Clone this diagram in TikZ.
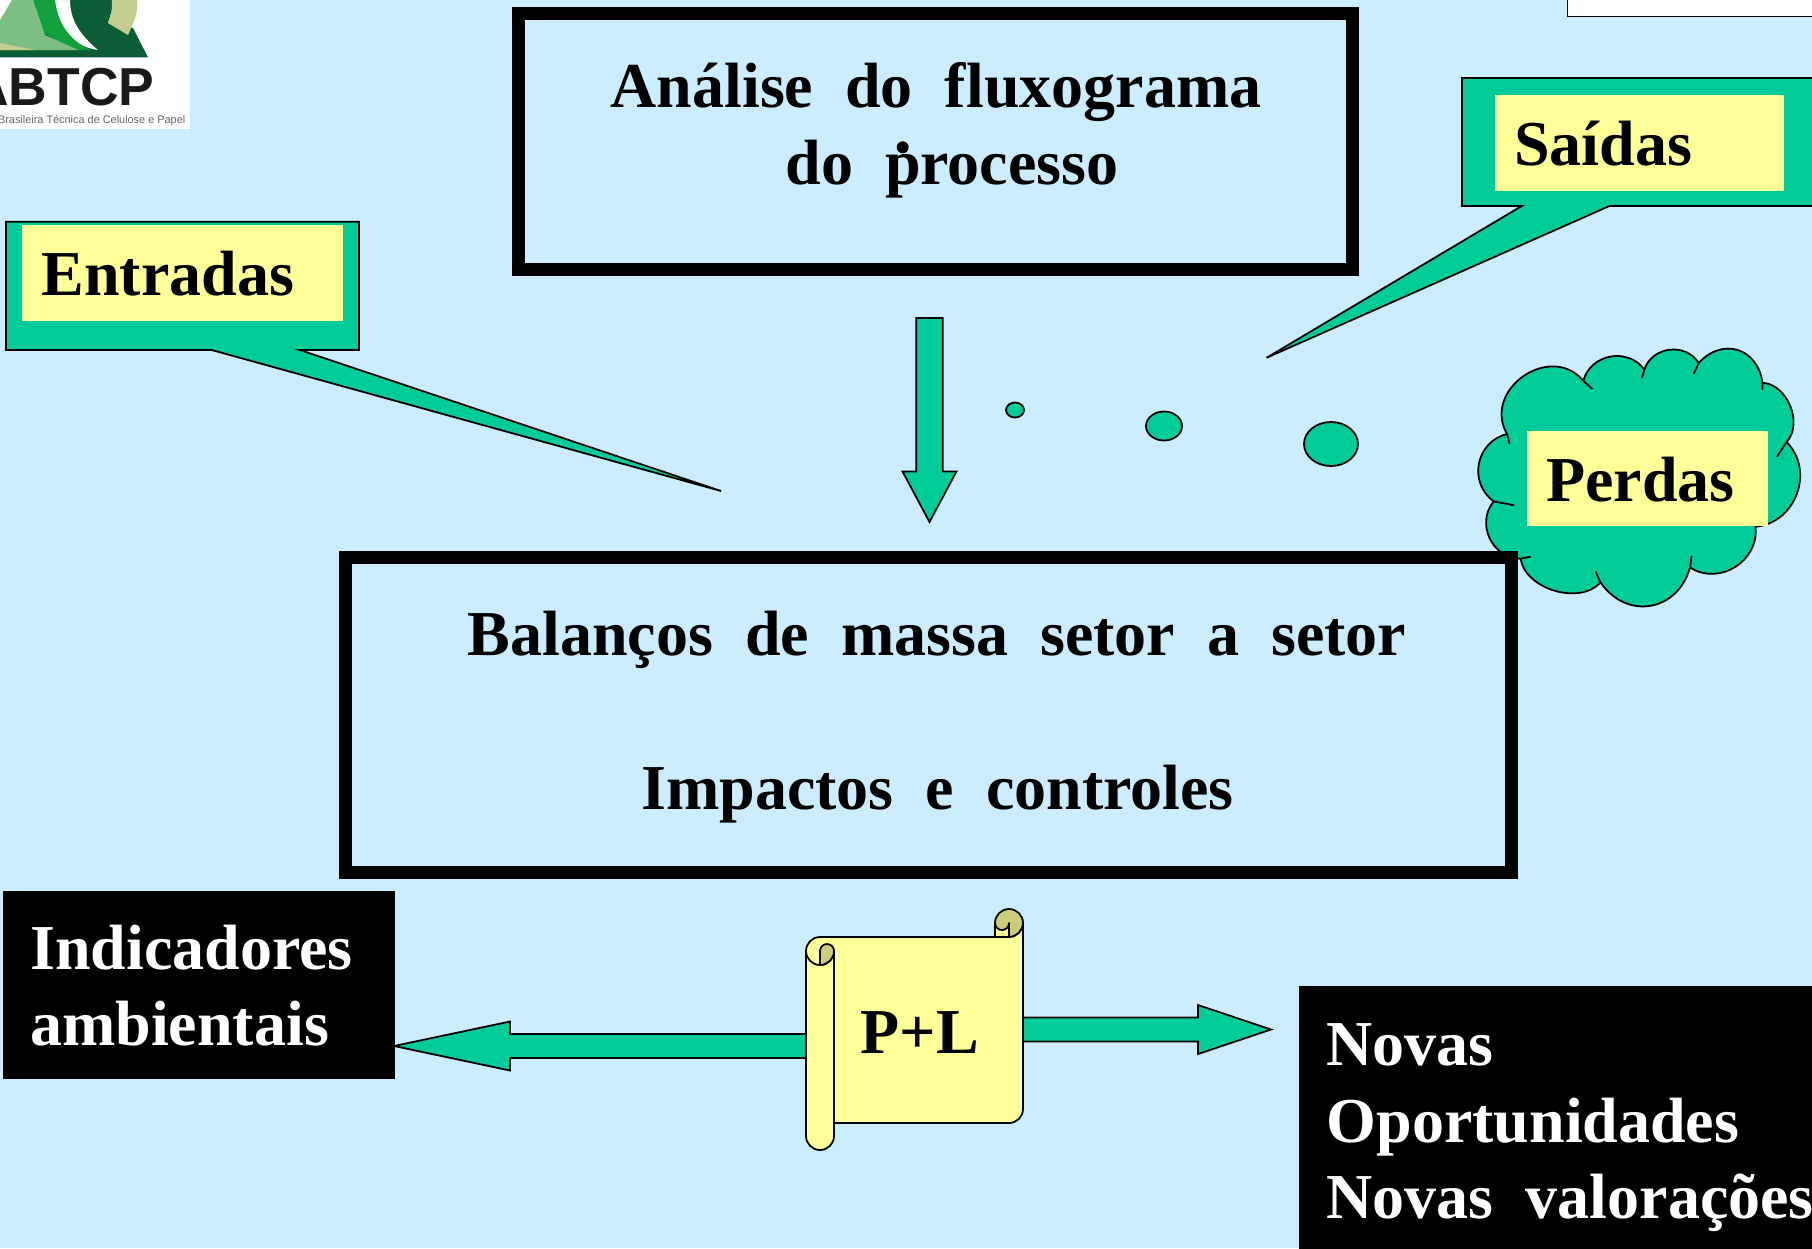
\documentclass[tikz,border=0pt]{standalone}
\usepackage{fontspec}
\setmainfont{Liberation Serif}
\newfontfamily\logofont{Liberation Sans}
\usetikzlibrary{calc, positioning, shapes.geometric}
\definecolor{fundo}{HTML}{CCECFF}
\definecolor{verde}{HTML}{00CC99}
\definecolor{amarelo}{HTML}{FFFF99}
\definecolor{caqui}{HTML}{CCCC7A}
\definecolor{logoescuro}{HTML}{0B5D36}
\definecolor{logomedio}{HTML}{12A03C}
\definecolor{logoclaro}{HTML}{7DBE85}
\definecolor{logobege}{HTML}{C5CC90}
\newcommand{\blocoseta}[5]{%
  \coordinate (base) at ($(#2)!#5!(#1)$);
  \draw[greenshape] ($(#1)!#3!90:(#2)$) -- ($(base)!#3!90:(#2)$) -- ($(base)!#4!90:(#2)$)
    -- (#2) -- ($(base)!#4!-90:(#2)$) -- ($(base)!#3!-90:(#2)$) -- ($(#1)!#3!-90:(#2)$) -- cycle;
}
\begin{document}
\begin{tikzpicture}[x=0.01cm,y=0.01cm,
  greenshape/.style={draw=black,fill=verde,line width=0.5pt,line join=miter},
  scrollpart/.style={draw=black,line width=0.5pt,line join=round},
  bump/.style={bend left=65,looseness=1.15},
  framebox/.style={draw=black,fill=fundo,line width=0.13cm,inner sep=0pt,anchor=north west},
  blackbox/.style={fill=black,inner sep=0pt,anchor=north west},
  labelbox/.style={fill=amarelo,inner sep=0pt,inner xsep=0.195cm,anchor=north west,
    font=\fontsize{18.2}{21.8}\selectfont\bfseries,align=left,text height=13pt,text depth=0pt},
  blob/.style={ellipse,draw=black,fill=verde,line width=0.5pt,inner sep=0pt},
  titletext/.style={font=\fontsize{18.2}{21.8}\selectfont\bfseries,inner sep=0pt,anchor=base},
  whitetext/.style={font=\fontsize{18.2}{21.8}\selectfont\bfseries,text=white,inner sep=0pt,
    align=left,anchor=north west}]
  \clip (0,0) rectangle (1812,-1248);
  \fill[fundo] (0,0) rectangle (1812,-1248);
  % logo
  \fill[white] (0,0) rectangle (190,-129);
  \fill[logoescuro] (70,0) -- (115,0) -- (108,-23) -- (133,-28) -- (148,-57.3) -- (0,-57.3) -- (0,-50) -- cycle;
  \fill[white] (55,0) .. controls (58,-30) and (75,-47) .. (98,-50) .. controls (80,-35) and (70,-20) .. (70,0) -- cycle;
  \fill[logomedio] (33,0) -- (55,0) .. controls (58,-25) and (70,-40) .. (90,-50) -- (70,-50) -- (40,-30) -- cycle;
  \fill[logoclaro] (12,0) -- (33,0) -- (45,-35) -- (78,-50) -- (0,-50) -- (0,-20) -- cycle;
  \fill[logobege] (0,-43) -- (35,-50) -- (0,-50) -- cycle;
  \fill[logobege] (112,0) -- (137,0) .. controls (137,-15) .. (128,-35) -- (108,-23) .. controls (112,-12) .. cycle;
  \node[font=\logofont\bfseries\fontsize{15.2}{15}\selectfont,text=black!90,inner sep=0pt,anchor=base east] (abtcp) at (155,-105) {ABTCP};
  \node[font=\logofont\fontsize{3.1}{4}\selectfont,text=black!60,inner sep=0pt,anchor=base east] (abtcpnome) at (186,-123) {Brasileira Técnica de Celulose e Papel};
  % white corner box
  \draw[black,line width=0.5pt,fill=white] (1567.5,5) rectangle (1830,-16.5);
  % callouts
  \draw[greenshape] (6,-221.7) -- (359,-221.7) -- (359,-350) -- (300,-350) -- (721,-491) -- (211.7,-350) -- (6,-350) -- cycle;
  \node[labelbox,minimum width=3.21cm,minimum height=0.96cm,text width=2.82cm] (entradas) at (21.5,-224) {Entradas};
  \draw[greenshape] (1830,-78) -- (1462,-78) -- (1462,-206) -- (1521.7,-206) -- (1266.5,-357.8) -- (1609.5,-206) -- (1830,-206);
  \node[labelbox,minimum width=2.89cm,minimum height=0.96cm,text width=2.5cm] (saidas) at (1494,-94) {Saídas};
  % cloud
  \draw[greenshape,line join=round] (1507,-434) to[bend left=85,looseness=1.4] (1583.3,-380.8) to[bump] (1644.3,-369.7)
    to[bump] (1698.7,-363) to[bump,looseness=1.35] (1762.5,-382.8) to[bump,looseness=1] (1786.6,-442)
    to[bump] (1755.4,-526.7) to[bump] (1690,-567.4) to[bump,looseness=1.3] (1600.5,-582.4)
    to[bump,looseness=.95] (1520.6,-558.7) to[bump] (1493.7,-501.4) to[bump,looseness=1.2] cycle;
  \draw[line width=0.5pt] (1583.3,-380.8) -- (1592.3,-389) (1644.3,-369.7) -- (1642,-377.6) (1698.7,-363) -- (1693.7,-373.7)
    (1762.5,-382.8) -- (1762.5,-389.5) (1786.6,-442) -- (1776.9,-456.7) (1690,-567.4) -- (1691.6,-555.6)
    (1600.5,-582.4) -- (1595.5,-571.4) (1520.6,-558.7) -- (1530.6,-556.7) (1493.7,-501.4) -- (1514.2,-505.3)
    (1507,-434) -- (1509.5,-443.7);
  \node[labelbox,minimum width=2.408cm,minimum height=0.957cm,text width=2.018cm] (perdas) at (1526,-429.8) {Perdas};
  % frames
  \node[framebox,minimum width=8.335cm,minimum height=2.56cm] (analise) at (512,-7.2) {};
  \node[framebox,minimum width=11.657cm,minimum height=3.148cm] (balancos) at (338.5,-551) {};
  % small bubbles
  \node[blob,minimum width=0.18cm,minimum height=0.15cm] (bolha1) at (1015,-410) {};
  \node[blob,minimum width=0.36cm,minimum height=0.29cm] (bolha2) at (1164,-426) {};
  \node[blob,minimum width=0.54cm,minimum height=0.44cm] (bolha3) at (1331,-444) {};
  % block arrows
  \coordinate (descetopo) at (929.5,-318);
  \coordinate (desceponta) at (929.5,-522);
  \blocoseta{descetopo}{desceponta}{0.133cm}{0.27cm}{0.505cm}
  \coordinate (esqinicio) at (830,-1046);
  \coordinate (esqponta) at (394,-1046);
  \blocoseta{esqinicio}{esqponta}{0.12cm}{0.245cm}{1.16cm}
  \coordinate (dirinicio) at (1000,-1029.5);
  \coordinate (dirponta) at (1271,-1029.5);
  \blocoseta{dirinicio}{dirponta}{0.12cm}{0.245cm}{0.73cm}
  % scroll
  \draw[scrollpart,fill=caqui] (1009,-923) circle (14);
  \draw[scrollpart,fill=amarelo] (995,-923) -- (995,-937) -- (1009,-937) -- (1009,-923) arc (0:-180:7);
  \draw[scrollpart,fill=amarelo] (806,-951) arc (180:90:14) -- (1009,-937) arc (-90:0:14) -- (1023,-1109)
    arc (0:-90:14) -- (834,-1123) -- (834,-1136) arc (0:-180:14) -- cycle;
  \draw[scrollpart] (806,-951) arc (180:360:14) -- (834,-1123);
  \draw[scrollpart,fill=caqui] (820,-951) arc (180:0:7) arc (0:-90:14) -- cycle;
  \node[titletext] (pl) at (920,-1053) {P+L};
  % black boxes
  \node[blackbox,minimum width=3.917cm,minimum height=1.88cm] (indicadores) at (2.3,-890) {};
  \node[blackbox,minimum width=5.2cm,minimum height=2.7cm] (novas) at (1298.3,-985.7) {};
  \node[whitetext] (indicadorestxt) at (29.5,-924) {Indicadores\\ambientais};
  \node[whitetext] (novastxt) at (1326,-1023) {Novas\\Oportunidades\\Novas~~valorações};
  % box texts
  \node[titletext] (analise1) at (936,-107.5) {Análise~~do~~fluxograma};
  \node[titletext] (analise2) at (952,-184) {do~~processo};
  \fill (902.7,-147.3) circle (6);
  \node[titletext] (balancos1) at (937,-655) {Balanços~~de~~massa~~setor~~a~~setor};
  \node[titletext] (balancos2) at (937.5,-809) {Impactos~~e~~controles};
\end{tikzpicture}
\end{document}
